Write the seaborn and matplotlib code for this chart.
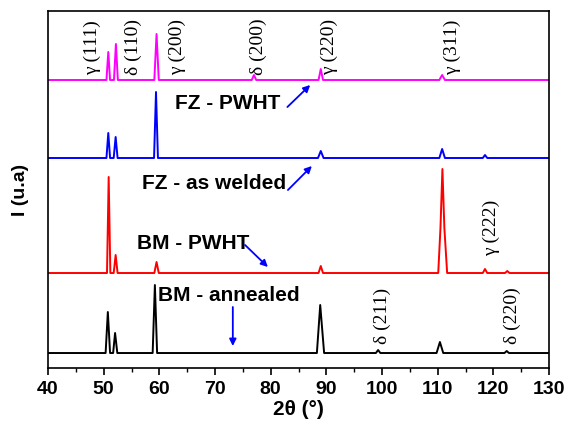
import numpy as np
import pandas as pd
import matplotlib
matplotlib.use("Agg")
import matplotlib.pyplot as plt
import seaborn as sns

# XRD traces (2theta in degrees, intensity in arbitrary units)
fz_pwht_x = [40, 50.5, 50.83, 51.15, 51.85, 52.2, 52.55, 59.1, 59.5, 59.9,
             76.6, 77.0, 77.4, 88.6, 89.0, 89.4, 110.3, 110.8, 111.3, 130]
fz_pwht_y = [288, 288, 316, 288, 288, 324, 288, 288, 334, 288,
             288, 293, 288, 288, 299, 288, 288, 293, 288, 288]

fz_weld_x = [40, 50.5, 50.83, 51.15, 51.8, 52.15, 52.5, 59.05, 59.4, 59.75,
             88.5, 89.0, 89.5, 110.3, 110.8, 111.3, 118.1, 118.5, 118.9, 130]
fz_weld_y = [210, 210, 235, 210, 210, 231, 210, 210, 276, 210,
             210, 217, 210, 210, 219, 210, 210, 213, 210, 210]

bm_pwht_x = [40, 50.6, 50.9, 51.2, 51.8, 52.15, 52.5, 59.1, 59.5, 59.9,
             88.6, 89.0, 89.4, 110.1, 110.5, 110.85, 111.2, 111.7,
             118.1, 118.5, 118.9, 122.1, 122.5, 122.9, 130]
bm_pwht_y = [95, 95, 191, 95, 95, 113, 95, 95, 106, 95,
             95, 102, 95, 95, 140, 199, 140, 95,
             95, 99, 95, 95, 97, 95, 95]

bm_ann_x = [40, 50.35, 50.75, 51.15, 51.7, 52.05, 52.45, 58.8, 59.2, 59.6,
            88.3, 88.9, 89.6, 98.9, 99.3, 99.7, 109.8, 110.4, 111.0,
            122.0, 122.4, 122.8, 130]
bm_ann_y = [15, 15, 56, 15, 15, 35, 15, 15, 83, 15,
            15, 63, 15, 15, 18, 15, 15, 26, 15,
            15, 17, 15, 15]

trace_names = ["FZ - PWHT", "FZ - as welded", "BM - PWHT", "BM - annealed"]
trace_colors = ["#ff00ff", "#0000ff", "#ff0000", "#000000"]

# phase labels: (text, 2theta, bottom of text)
phase_labels = ["γ (111)", "δ (110)", "γ (200)", "δ (200)", "γ (220)", "γ (311)",
                "γ (222)", "δ (211)", "δ (220)"]
phase_x = [48.0, 55.3, 63.2, 77.7, 90.6, 112.7, 119.7, 100.1, 123.5]
phase_y = [293, 293, 293, 293, 293, 293, 112, 24, 24]

# sample labels (text centre) and arrow (tail -> head)
sample_x = [72.2, 69.8, 66.0, 72.4]
sample_y = [265, 185, 125, 73]
arrow_tail_x = [83.0, 83.1, 75.4, 73.2]
arrow_tail_y = [261, 178, 123, 61]
arrow_head_x = [87.1, 87.4, 79.5, 73.2]
arrow_head_y = [283, 202, 101, 22]

sns.set_style("ticks")
plt.rcParams["font.family"] = ["Liberation Sans", "DejaVu Sans"]
plt.rcParams["text.color"] = "black"
plt.rcParams["axes.labelcolor"] = "black"
plt.rcParams["axes.edgecolor"] = "black"
plt.rcParams["xtick.color"] = "black"

fig = plt.figure(figsize=(5.66, 4.23), dpi=100)
ax = fig.add_axes([0.0848, 0.130, 0.8852, 0.844])

traces = [(fz_pwht_x, fz_pwht_y), (fz_weld_x, fz_weld_y),
          (bm_pwht_x, bm_pwht_y), (bm_ann_x, bm_ann_y)]
for (xs, ys), name, col in zip(traces, trace_names, trace_colors):
    df = pd.DataFrame({"two_theta": xs, "intensity": ys})
    sns.lineplot(data=df, x="two_theta", y="intensity", color=col,
                 lw=1.4, estimator=None, ax=ax)

for txt, px, py in zip(phase_labels, phase_x, phase_y):
    ax.text(px, py, txt, rotation=90, ha="center", va="bottom",
            fontsize=14, color="black",
            family=["Liberation Serif", "DejaVu Serif"])

for name, sx, sy, tx, ty, hx, hy in zip(trace_names, sample_x, sample_y,
                                       arrow_tail_x, arrow_tail_y,
                                       arrow_head_x, arrow_head_y):
    ax.text(sx, sy, name, ha="center", va="center", fontsize=15,
            fontweight="bold", color="black")
    ax.annotate("", xy=(hx, hy), xytext=(tx, ty),
                arrowprops=dict(arrowstyle="-|>", color="#0000ff", lw=1.3,
                                mutation_scale=10, shrinkA=0, shrinkB=0))

ax.set_xlim(40, 130)
ax.set_ylim(0, 357)
ax.set_xticks(np.arange(40, 131, 10))
ax.set_xticks(np.arange(45, 130, 10), minor=True)
ax.set_yticks([])
ax.tick_params(axis="x", which="major", length=5, width=1.2, direction="out",
               labelsize=14, pad=4, color="black", labelcolor="black")
ax.tick_params(axis="x", which="minor", length=3, width=1.0, direction="out",
               color="black")
for lbl in ax.get_xticklabels():
    lbl.set_fontweight("bold")
for sp in ax.spines.values():
    sp.set_visible(True)
    sp.set_linewidth(1.2)
    sp.set_color("black")

ax.set_xlabel("2θ (°)", fontsize=15, fontweight="bold", labelpad=2)
ax.set_ylabel("I (u.a)", fontsize=14, fontweight="bold", labelpad=14)

fig.savefig("out.png", dpi=100)
